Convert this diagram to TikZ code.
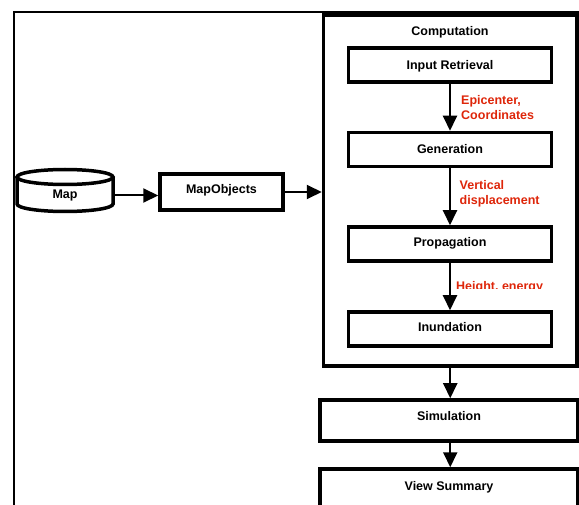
\documentclass[tikz,border=0pt]{standalone}
\usepackage{fontspec}
\setmainfont{Liberation Sans}
\usetikzlibrary{arrows.meta}
\definecolor{lblred}{RGB}{222,38,10}
\begin{document}
\begin{tikzpicture}[x=1pt,y=-1pt,
  box/.style={draw,line width=3.5pt,inner sep=0pt},
  txt/.style={font=\fontsize{12.5}{15}\selectfont\bfseries,inner sep=0pt,anchor=base},
  lbl/.style={txt,text=lblred,align=left,anchor=base west},
  arr/.style={line width=2pt,-{Triangle[length=15pt,width=14pt]}},
  frame/.style={line width=2pt}]
\useasboundingbox (0,0) rectangle (579,505);
% outer frame
\draw[frame] (13.5,520) -- (13.5,12) -- (590,12);
% computation container
\node[box,minimum width=253.5pt,minimum height=351pt] (comp) at (450.25,190.5) {};
\node[txt] (compT) at (450,35.5) {Computation};
% inner boxes
\node[box,minimum width=203pt,minimum height=34pt] (inp) at (450,65) {};
\node[txt] (inpT) at (450,69.5) {Input Retrieval};
\node[box,minimum width=203pt,minimum height=34pt] (gen) at (450,149.5) {};
\node[txt] (genT) at (450,154) {Generation};
\node[box,minimum width=203pt,minimum height=34pt] (prop) at (450,244) {};
\node[txt] (propT) at (450,247) {Propagation};
\node[box,minimum width=203pt,minimum height=34pt] (inun) at (450,329) {};
\node[txt] (inunT) at (450,332) {Inundation};
% lower boxes
\node[box,minimum width=258pt,minimum height=41pt] (sim) at (449,420.5) {};
\node[txt] (simT) at (449,420.5) {Simulation};
\node[box,minimum width=258pt,minimum height=60pt] (view) at (449,499) {};
\node[txt] (viewT) at (449,490.5) {View Summary};
% map objects
\node[box,minimum width=123pt,minimum height=36pt] (mapobj) at (221.5,192) {};
\node[txt] (mapobjT) at (221.5,193.5) {MapObjects};
% map cylinder
\draw[line width=3.5pt] (65,177) ellipse [x radius=48, y radius=7.5];
\draw[line width=3.5pt] (17,177) -- (17,204) arc[start angle=180,end angle=0,x radius=48,y radius=7.5] -- (113,177);
\node[minimum width=96pt,minimum height=30pt,inner sep=0pt] (map) at (65,195.5) {};
\node[txt] (mapT) at (65,198.5) {Map};
% connectors
\draw[arr] (map.east) -- (mapobj.west |- map.east);
\draw[arr] (mapobj.east) -- (comp.west |- mapobj.east);
\draw[arr] (inp.south) -- (gen.north);
\draw[arr] (gen.south) -- (prop.north);
\draw[arr] (prop.south) -- (inun.north);
\draw[arr] (comp.south) -- (sim.north -| comp.south);
\draw[arr] (sim.south -| comp.south) -- (view.north -| comp.south);
% labels
\node[lbl] (l1) at (461,119.5) {Epicenter,\\Coordinates};
\node[lbl] (l2) at (459.5,205) {Vertical\\displacement};
\begin{scope}
\clip (440,270) rectangle (579,289);
\node[lbl] (l3) at (456,290.5) {Height, energy};
\end{scope}
\end{tikzpicture}
\end{document}
